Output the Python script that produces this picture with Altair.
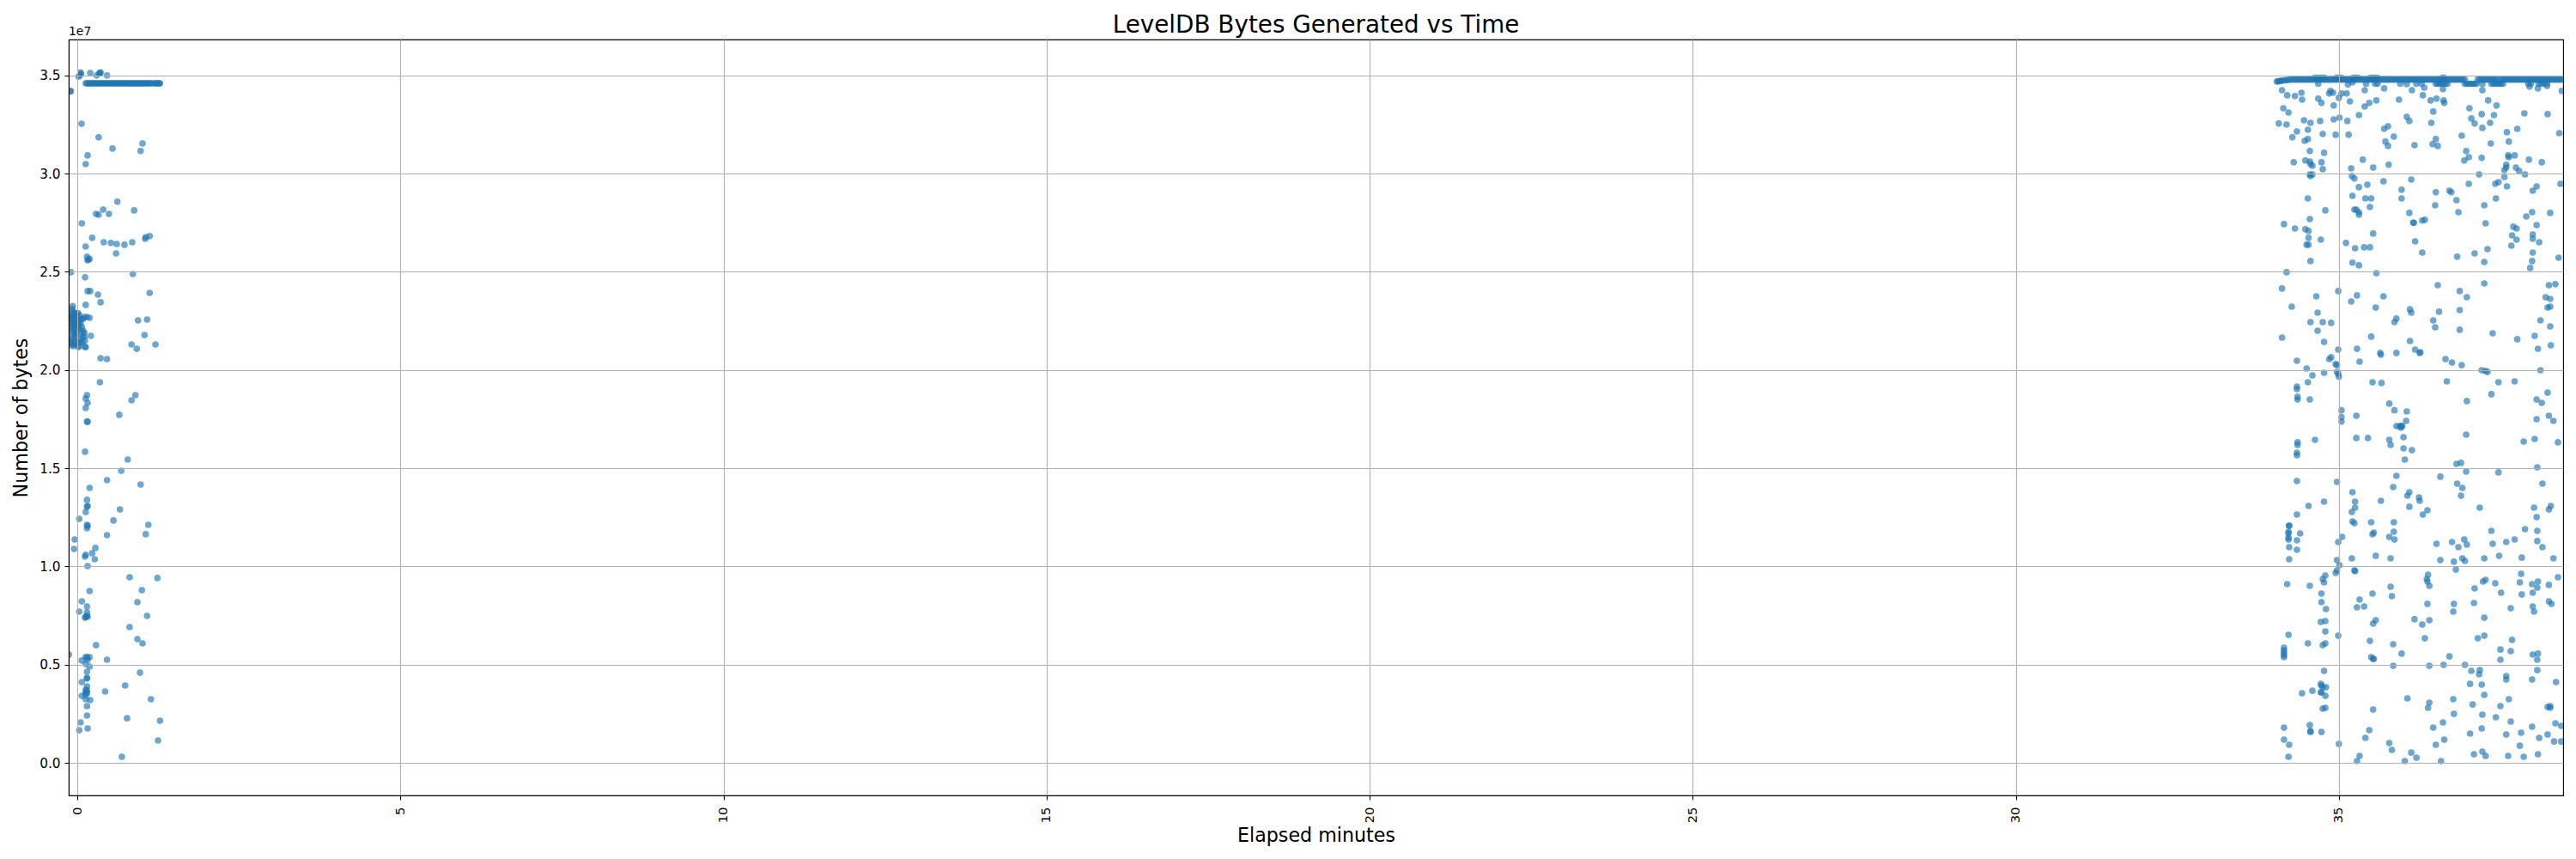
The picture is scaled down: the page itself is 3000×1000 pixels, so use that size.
import altair as alt
import pandas as pd

# values: (elapsed minutes, bytes in units of 1e7)

# first run, above 2.3e7
startup_upper = [
    (-0.10, 3.42), (-0.11, 3.42), (0.05, 3.515), (0.06, 3.508), (0.04, 3.50), (0.02, 3.494),
    (0.20, 3.512), (0.30, 3.50), (0.35, 3.512), (0.34, 3.51), (0.36, 3.515), (0.46, 3.50),
    (0.066, 3.254), (0.33, 3.185), (0.545, 3.128), (1.01, 3.154), (0.98, 3.115), (0.16, 3.093),
    (0.13, 3.049), (0.62, 2.857), (0.88, 2.813), (0.40, 2.817), (0.29, 2.795), (0.33, 2.791),
    (0.49, 2.795), (0.07, 2.747), (0.23, 2.673), (1.12, 2.682), (1.06, 2.677), (1.05, 2.668),
    (0.41, 2.651), (0.52, 2.647), (0.61, 2.642), (0.73, 2.638), (0.85, 2.651), (0.60, 2.594),
    (0.13, 2.629), (0.15, 2.577), (0.16, 2.559), (0.19, 2.566), (0.17, 2.563), (-0.10, 2.498),
    (0.86, 2.489), (0.12, 2.472), (0.16, 2.402), (0.20, 2.402), (0.32, 2.384), (0.36, 2.345),
    (1.12, 2.393), (0.13, 2.332), (-0.07, 2.326),
]

# the thick row near 3.46e7 in the first run
startup_band_minutes = [
    0.13, 0.15, 0.17, 0.19, 0.21, 0.23, 0.25, 0.27, 0.29, 0.31, 0.33, 0.35, 0.37, 0.39, 0.41,
    0.43, 0.45, 0.47, 0.49, 0.51, 0.53, 0.55, 0.57, 0.59, 0.61, 0.63, 0.65, 0.67, 0.69, 0.71,
    0.73, 0.75, 0.77, 0.79, 0.81, 0.83, 0.85, 0.87, 0.89, 0.91, 0.93, 0.95, 0.97, 0.99, 1.01,
    1.03, 1.05, 1.07, 1.09, 1.11, 1.13, 1.15, 1.19, 1.21, 1.23, 1.25, 1.27, 1.28,
]
startup_band_bytes = 3.46

# dense patch around 2.2e7 right at the start
startup_patch = [
    (-0.10, 2.28), (-0.08, 2.31), (-0.07, 2.30), (-0.05, 2.29), (-0.03, 2.29), (-0.01, 2.28),
    (0.01, 2.29), (0.03, 2.28), (-0.11, 2.26), (-0.09, 2.27), (-0.07, 2.27), (-0.05, 2.26),
    (-0.02, 2.26), (0.01, 2.26), (0.03, 2.25), (0.06, 2.26), (0.09, 2.26), (-0.11, 2.24),
    (-0.08, 2.24), (-0.06, 2.24), (-0.03, 2.23), (0.00, 2.24), (0.02, 2.23), (0.05, 2.24),
    (-0.10, 2.22), (-0.07, 2.21), (-0.05, 2.22), (-0.02, 2.21), (0.01, 2.22), (0.04, 2.21),
    (0.07, 2.22), (-0.09, 2.19), (-0.06, 2.19), (-0.03, 2.18), (-0.01, 2.19), (0.06, 2.19),
    (0.09, 2.20), (0.11, 2.19), (-0.10, 2.16), (-0.07, 2.16), (-0.04, 2.15), (-0.02, 2.17),
    (0.05, 2.16), (0.08, 2.17), (0.11, 2.17), (0.12, 2.15), (-0.10, 2.14), (-0.08, 2.13),
    (-0.05, 2.13), (-0.02, 2.14), (0.02, 2.14), (0.05, 2.14), (0.08, 2.14), (0.03, 2.12),
    (-0.07, 2.122), (0.01, 2.117),
]

# first run, below the patch
startup_lower = [
    (0.15, 2.270), (0.19, 2.266), (0.11, 2.27), (1.08, 2.257), (0.94, 2.253), (0.21, 2.174),
    (1.04, 2.178), (0.84, 2.130), (1.21, 2.130), (0.92, 2.108), (0.12, 2.117), (0.13, 2.117),
    (0.36, 2.060), (0.46, 2.056), (0.35, 1.938), (0.15, 1.872), (0.90, 1.872), (0.13, 1.855),
    (0.84, 1.846), (0.16, 1.833), (0.13, 1.807), (0.65, 1.772), (0.15, 1.737), (0.16, 1.737),
    (0.12, 1.584), (0.78, 1.544), (0.68, 1.487), (0.46, 1.439), (0.98, 1.417), (0.19, 1.400),
    (0.15, 1.339), (0.15, 1.304), (0.16, 1.308), (0.13, 1.277), (0.66, 1.290), (0.03, 1.242),
    (0.56, 1.234), (1.10, 1.212), (0.15, 1.212), (0.16, 1.207), (0.15, 1.194), (0.46, 1.159),
    (1.06, 1.164), (-0.04, 1.137), (-0.05, 1.089), (0.28, 1.094), (0.23, 1.067), (0.13, 1.059),
    (0.12, 1.050), (0.27, 1.037), (0.16, 1.002), (0.81, 0.945), (1.24, 0.941), (1.00, 0.879),
    (0.19, 0.875), (0.07, 0.822), (0.93, 0.818), (0.15, 0.796), (0.03, 0.770), (0.15, 0.766),
    (1.08, 0.748), (0.15, 0.748), (0.13, 0.744), (0.16, 0.744), (0.12, 0.739), (0.81, 0.691),
    (0.93, 0.630), (1.01, 0.608), (0.29, 0.599), (-0.13, 0.551), (0.15, 0.538), (0.13, 0.538),
    (0.19, 0.538), (0.16, 0.525), (0.07, 0.521), (0.46, 0.525), (0.13, 0.503), (0.19, 0.490),
    (0.15, 0.464), (0.97, 0.459), (0.15, 0.429), (0.15, 0.433), (0.07, 0.411), (0.74, 0.394),
    (0.15, 0.389), (0.13, 0.372), (0.15, 0.367), (0.13, 0.359), (0.15, 0.354), (0.43, 0.363),
    (0.13, 0.346), (0.07, 0.341), (0.13, 0.324), (0.20, 0.319), (1.14, 0.324), (0.15, 0.289),
    (0.15, 0.241), (0.77, 0.227), (0.05, 0.206), (1.28, 0.214), (0.16, 0.175), (0.03, 0.166),
    (1.25, 0.114), (0.69, 0.031),
]

# the thick row near 3.48e7 in the second run
resume_band_tip = [
    (34.04, 3.469), (34.06, 3.470), (34.08, 3.472), (34.10, 3.472), (34.13, 3.474), (34.16, 3.475),
    (34.19, 3.476), (34.22, 3.477),
]
resume_band_minutes = [
    34.25, 34.28, 34.31, 34.34, 34.37, 34.40, 34.43, 34.46, 34.49, 34.52, 34.55, 34.58, 34.61,
    34.64, 34.67, 34.70, 34.73, 34.76, 34.79, 34.82, 34.85, 34.88, 34.91, 34.94, 34.97, 35.00,
    35.03, 35.06, 35.09, 35.12, 35.15, 35.18, 35.21, 35.24, 35.27, 35.30, 35.33, 35.36, 35.39,
    35.42, 35.45, 35.48, 35.51, 35.54, 35.57, 35.60, 35.63, 35.66, 35.69, 35.72, 35.75, 35.78,
    35.81, 35.84, 35.87, 35.90, 35.93, 35.96, 35.99, 36.02, 36.05, 36.08, 36.11, 36.14, 36.17,
    36.20, 36.23, 36.26, 36.29, 36.32, 36.35, 36.38, 36.41, 36.44, 36.47, 36.50, 36.53, 36.56,
    36.59, 36.62, 36.65, 36.68, 36.71, 36.74, 36.77, 36.80, 36.83, 36.86, 36.89, 36.92, 36.95,
    37.15, 37.18, 37.21, 37.24, 37.27, 37.30, 37.33, 37.36, 37.39, 37.42, 37.45, 37.50, 37.53,
    37.56, 37.59, 37.62, 37.65, 37.68, 37.71, 37.74, 37.77, 37.80, 37.83, 37.86, 37.89, 37.92,
    37.95, 37.98, 38.01, 38.04, 38.07, 38.10, 38.13, 38.16, 38.19, 38.22, 38.25, 38.28, 38.31,
    38.34, 38.37, 38.40, 38.43, 38.46,
]
resume_band_bytes = 3.479
resume_dip_minutes = [
    34.68, 35.42, 35.56, 35.60, 35.95, 36.20, 36.28, 36.50, 36.53, 36.56, 36.59, 36.62, 36.65,
    36.68, 36.95, 36.98, 37.01, 37.04, 37.07, 37.10, 37.13, 37.36, 37.39, 37.42, 37.45, 37.48,
    37.51, 37.54, 37.93, 37.97, 38.09, 38.13, 38.17, 38.22,
]
resume_dip_bytes = 3.458
resume_over_minutes = [
    34.62, 34.66, 34.70, 34.74, 34.78, 34.96, 35.00, 35.04, 35.22, 35.26, 35.30, 35.48, 35.52,
    35.56, 35.60, 36.60, 36.63,
]
resume_over_bytes = 3.488

# second run, from the band down to 2.5e7
resume_upper = [
    (34.12, 3.425), (34.20, 3.399), (34.32, 3.395), (34.42, 3.412), (34.43, 3.377), (34.68, 3.382),
    (34.73, 3.360), (34.85, 3.408), (34.87, 3.421), (34.91, 3.412), (35.04, 3.408), (35.12, 3.408),
    (35.00, 3.386), (34.92, 3.347), (35.17, 3.368), (35.14, 3.454), (35.21, 3.465), (35.40, 3.425),
    (35.70, 3.434), (36.13, 3.425), (36.05, 3.456), (36.32, 3.438), (36.30, 3.399), (36.61, 3.430),
    (36.42, 3.373), (36.51, 3.382), (36.62, 3.373), (36.63, 3.360), (35.93, 3.377), (35.58, 3.373),
    (35.47, 3.360), (35.40, 3.342), (37.22, 3.425), (37.22, 3.456), (37.31, 3.373), (37.44, 3.347),
    (37.02, 3.333), (37.87, 3.307), (38.23, 3.303), (38.45, 3.421), (38.22, 3.447), (38.08, 3.434),
    (37.95, 3.443), (34.14, 3.333), (34.22, 3.311), (34.07, 3.255), (34.19, 3.250), (34.46, 3.272),
    (34.56, 3.259), (34.71, 3.268), (34.92, 3.276), (35.01, 3.285), (35.13, 3.268), (35.31, 3.298),
    (36.05, 3.289), (36.09, 3.268), (36.46, 3.316), (36.43, 3.259), (35.70, 3.228), (35.76, 3.241),
    (35.85, 3.189), (37.05, 3.281), (37.10, 3.255), (37.21, 3.303), (37.40, 3.298), (37.34, 3.259),
    (37.22, 3.233), (37.60, 3.211), (37.76, 3.228), (38.41, 3.206), (34.35, 3.215), (34.52, 3.224),
    (34.28, 3.185), (34.47, 3.167), (34.52, 3.176), (34.75, 3.202), (34.95, 3.198), (35.15, 3.198),
    (36.90, 3.193), (36.50, 3.176), (36.45, 3.150), (36.53, 3.141), (35.72, 3.163), (35.76, 3.141),
    (36.17, 3.145), (37.35, 3.154), (37.63, 3.163), (34.55, 3.115), (34.77, 3.106), (36.97, 3.115),
    (37.01, 3.084), (36.94, 3.067), (37.21, 3.080), (37.62, 3.093), (37.63, 3.084), (37.72, 3.093),
    (37.94, 3.071), (38.14, 3.058), (34.48, 3.067), (34.55, 3.062), (34.56, 3.049), (34.59, 3.040),
    (34.30, 3.058), (34.73, 3.058), (34.75, 3.023), (35.37, 3.071), (35.53, 3.031), (35.77, 3.045),
    (35.19, 3.027), (37.59, 3.045), (37.59, 3.031), (37.56, 3.018), (37.74, 3.031), (37.79, 3.014),
    (37.88, 2.996), (37.17, 2.996), (34.55, 2.996), (34.59, 2.996), (34.56, 2.988), (35.20, 2.988),
    (35.24, 2.975), (35.69, 2.961), (36.12, 2.970), (37.01, 2.948), (37.42, 2.948), (37.47, 2.957),
    (37.56, 2.983), (37.60, 2.935), (38.43, 2.948), (35.31, 2.931), (35.44, 2.944), (35.97, 2.918),
    (38.06, 2.935), (38.00, 2.913), (36.71, 2.913), (36.74, 2.905), (36.50, 2.905), (36.82, 2.865),
    (35.21, 2.887), (35.41, 2.874), (35.50, 2.874), (35.97, 2.874), (37.43, 2.874), (34.52, 2.874),
    (36.49, 2.839), (37.25, 2.839), (35.48, 2.830), (35.24, 2.817), (35.27, 2.817), (35.31, 2.804),
    (35.31, 2.791), (34.79, 2.813), (36.09, 2.800), (36.85, 2.804), (37.99, 2.804), (37.90, 2.782),
    (38.27, 2.800), (34.55, 2.769), (36.33, 2.765), (36.29, 2.761), (36.16, 2.750), (36.15, 2.750),
    (37.27, 2.747), (34.15, 2.743), (34.32, 2.721), (34.48, 2.717), (34.53, 2.708), (38.06, 2.738),
    (37.70, 2.730), (37.75, 2.721), (35.53, 2.695), (38.00, 2.690), (37.68, 2.686), (38.00, 2.668),
    (37.75, 2.664), (34.53, 2.673), (34.72, 2.664), (36.18, 2.655), (38.10, 2.651), (35.11, 2.647),
    (34.50, 2.638), (34.53, 2.638), (37.67, 2.633), (35.25, 2.620), (35.39, 2.625), (35.48, 2.625),
    (37.30, 2.616), (36.29, 2.598), (38.00, 2.598), (37.10, 2.594), (36.83, 2.577), (38.40, 2.572),
    (34.56, 2.555), (37.25, 2.550), (37.99, 2.555), (35.21, 2.547), (35.31, 2.533), (37.96, 2.520),
]

# second run, 2.5e7 to 1.5e7
resume_middle = [
    (34.19, 2.498), (35.58, 2.493), (37.25, 2.441), (36.53, 2.432), (38.25, 2.432), (38.35, 2.437),
    (34.12, 2.415), (34.99, 2.402), (36.87, 2.402), (34.65, 2.375), (35.28, 2.380), (35.69, 2.375),
    (36.98, 2.371), (38.20, 2.371), (38.27, 2.362), (35.19, 2.349), (34.27, 2.323), (35.57, 2.318),
    (38.23, 2.318), (38.27, 2.323), (36.10, 2.309), (36.12, 2.292), (36.55, 2.297), (36.87, 2.305),
    (34.67, 2.292), (34.56, 2.244), (34.75, 2.244), (34.88, 2.240), (35.89, 2.262), (35.86, 2.244),
    (36.46, 2.253), (38.12, 2.253), (36.49, 2.218), (38.27, 2.222), (34.67, 2.200), (36.87, 2.205),
    (37.38, 2.187), (34.12, 2.165), (35.50, 2.170), (38.03, 2.174), (37.76, 2.157), (34.77, 2.143),
    (36.10, 2.148), (38.28, 2.126), (34.99, 2.104), (35.28, 2.108), (36.18, 2.104), (38.08, 2.108),
    (35.64, 2.087), (35.65, 2.078), (35.89, 2.087), (36.25, 2.087), (36.26, 2.091), (34.85, 2.056),
    (34.88, 2.065), (34.35, 2.047), (35.32, 2.043), (36.65, 2.056), (36.75, 2.038), (36.90, 2.025),
    (34.95, 2.030), (34.97, 2.025), (34.50, 2.008), (37.21, 1.999), (37.27, 1.995), (37.30, 1.990),
    (38.12, 1.999), (34.77, 1.986), (34.97, 1.990), (34.99, 1.981), (35.00, 1.966), (34.59, 1.973),
    (34.35, 1.916), (34.35, 1.903), (34.52, 1.938), (35.52, 1.938), (35.66, 1.934), (36.67, 1.942),
    (37.47, 1.938), (37.72, 1.942), (37.36, 1.877), (38.23, 1.885), (34.36, 1.864), (34.36, 1.850),
    (34.55, 1.850), (38.06, 1.850), (38.14, 1.833), (36.98, 1.842), (35.78, 1.829), (35.86, 1.795),
    (36.05, 1.789), (35.04, 1.795), (35.04, 1.760), (35.04, 1.738), (35.27, 1.767), (38.06, 1.750),
    (38.25, 1.767), (38.32, 1.741), (36.04, 1.741), (35.89, 1.715), (35.94, 1.715), (35.97, 1.715),
    (35.96, 1.706), (35.98, 1.715), (36.97, 1.671), (34.63, 1.645), (34.36, 1.632), (34.36, 1.619),
    (34.35, 1.579), (34.35, 1.566), (35.27, 1.654), (35.45, 1.654), (35.78, 1.645), (35.80, 1.619),
    (36.00, 1.658), (36.00, 1.601), (36.13, 1.592), (36.02, 1.544), (37.86, 1.636), (38.03, 1.649),
    (38.39, 1.632), (36.82, 1.522), (36.89, 1.527), (36.97, 1.483), (37.47, 1.479), (38.07, 1.505),
]

# second run, below 1.5e7
resume_lower = [
    (35.89, 1.461), (36.57, 1.457), (34.35, 1.435), (34.97, 1.430), (38.15, 1.422), (36.83, 1.422),
    (36.91, 1.400), (35.84, 1.404), (35.21, 1.378), (36.09, 1.378), (36.06, 1.360), (36.89, 1.360),
    (36.24, 1.352), (36.25, 1.334), (35.25, 1.330), (34.77, 1.330), (35.65, 1.334), (34.53, 1.308),
    (35.25, 1.299), (36.09, 1.304), (37.18, 1.299), (38.02, 1.299), (38.28, 1.308), (38.25, 1.290),
    (35.20, 1.277), (36.37, 1.286), (36.30, 1.264), (34.35, 1.264), (38.06, 1.251), (35.21, 1.229),
    (35.24, 1.220), (35.50, 1.225), (35.85, 1.225), (34.23, 1.207), (34.23, 1.207), (34.22, 1.177),
    (34.22, 1.168), (34.40, 1.168), (34.22, 1.146), (34.22, 1.137), (35.85, 1.177), (35.54, 1.172),
    (35.52, 1.164), (37.36, 1.181), (37.88, 1.190), (38.07, 1.181), (35.05, 1.150), (35.78, 1.150),
    (35.86, 1.137), (34.35, 1.133), (34.99, 1.124), (36.94, 1.137), (36.75, 1.124), (36.98, 1.111),
    (36.85, 1.098), (36.51, 1.115), (37.38, 1.115), (37.59, 1.124), (37.72, 1.137), (38.07, 1.129),
    (38.15, 1.098), (34.23, 1.098), (34.35, 1.085), (34.23, 1.037), (35.57, 1.054), (35.20, 1.041),
    (35.80, 1.041), (34.97, 1.032), (36.57, 1.032), (36.78, 1.024), (36.91, 1.041), (36.95, 1.028),
    (37.25, 1.041), (37.48, 1.054), (37.83, 1.045), (38.32, 1.041), (35.01, 1.006), (34.97, 0.980),
    (34.95, 0.967), (35.24, 0.980), (35.25, 0.976), (36.81, 0.984), (37.82, 0.962), (36.38, 0.958),
    (34.79, 0.954), (34.75, 0.936), (34.77, 0.919), (36.36, 0.936), (36.37, 0.923), (36.40, 0.901),
    (37.27, 0.932), (37.23, 0.923), (37.80, 0.919), (38.39, 0.945), (38.08, 0.923), (37.42, 0.914),
    (37.99, 0.910), (38.25, 0.906), (34.20, 0.910), (34.55, 0.901), (35.80, 0.897), (38.07, 0.892),
    (37.10, 0.888), (37.51, 0.866), (38.00, 0.866), (34.73, 0.862), (35.52, 0.862), (37.83, 0.857),
    (35.82, 0.849), (35.32, 0.831), (34.73, 0.818), (36.37, 0.809), (36.78, 0.809), (37.09, 0.814),
    (38.25, 0.822), (38.29, 0.809), (35.39, 0.796), (35.28, 0.792), (34.80, 0.783), (37.66, 0.787),
    (38.00, 0.796), (36.77, 0.770), (38.02, 0.770), (37.25, 0.739), (36.17, 0.731), (35.57, 0.726),
    (36.40, 0.726), (34.79, 0.722), (34.72, 0.717), (35.53, 0.709), (36.29, 0.704), (34.79, 0.669),
    (34.22, 0.652), (34.99, 0.647), (37.25, 0.647), (37.15, 0.634), (36.33, 0.634), (37.68, 0.626),
    (35.48, 0.621), (34.52, 0.608), (34.79, 0.608), (34.75, 0.599), (35.84, 0.604), (34.15, 0.586),
    (34.15, 0.572), (34.15, 0.560), (34.15, 0.548), (34.15, 0.538), (35.97, 0.556), (37.50, 0.577),
    (37.66, 0.569), (38.08, 0.556), (38.00, 0.551), (37.50, 0.525), (38.07, 0.525), (35.50, 0.538),
    (35.54, 0.529), (35.53, 0.529), (36.71, 0.542), (35.84, 0.494), (36.40, 0.494), (36.62, 0.499),
    (36.95, 0.499), (34.77, 0.468), (38.07, 0.472), (37.05, 0.468), (37.18, 0.472), (37.17, 0.451),
    (37.59, 0.442), (37.59, 0.424), (37.99, 0.424), (38.36, 0.411), (37.03, 0.402), (37.21, 0.398),
    (34.72, 0.402), (34.73, 0.394), (34.80, 0.385), (34.75, 0.385), (34.59, 0.367), (34.43, 0.354),
    (34.72, 0.359), (34.73, 0.359), (34.79, 0.341), (37.25, 0.346), (36.06, 0.328), (36.77, 0.324),
    (37.63, 0.324), (36.40, 0.306), (37.07, 0.297), (37.50, 0.289), (36.38, 0.280), (38.23, 0.284),
    (38.27, 0.289), (38.27, 0.280), (34.79, 0.280), (34.75, 0.276), (35.53, 0.271), (36.78, 0.249),
    (37.22, 0.245), (37.43, 0.232), (36.61, 0.206), (37.66, 0.210), (38.35, 0.201), (38.44, 0.188),
    (34.55, 0.192), (34.15, 0.179), (36.46, 0.179), (37.21, 0.175), (37.99, 0.184), (35.47, 0.166),
    (34.56, 0.162), (34.56, 0.157), (34.73, 0.157), (37.03, 0.149), (37.59, 0.144), (37.82, 0.153),
    (38.23, 0.144), (35.41, 0.127), (36.63, 0.118), (38.10, 0.127), (34.15, 0.118), (34.23, 0.092),
    (35.00, 0.096), (35.78, 0.101), (36.50, 0.092), (37.80, 0.087), (38.33, 0.109), (38.44, 0.109),
    (35.82, 0.066), (36.12, 0.052), (37.22, 0.057), (37.27, 0.035), (37.09, 0.044), (38.08, 0.044),
    (35.32, 0.035), (34.22, 0.031), (36.20, 0.026), (37.62, 0.035), (37.86, 0.031), (35.28, 0.009),
    (36.02, 0.009), (36.58, 0.009),
]

x_ticks = [0, 5, 10, 15, 20, 25, 30, 35]
y_ticks = [0, 5e6, 1e7, 1.5e7, 2e7, 2.5e7, 3e7, 3.5e7]

points = startup_upper + startup_patch + startup_lower + resume_band_tip
points += resume_upper + resume_middle + resume_lower
points += [(m, startup_band_bytes) for m in startup_band_minutes]
points += [(m, resume_band_bytes) for m in resume_band_minutes]
points += [(m, resume_dip_bytes) for m in resume_dip_minutes]
points += [(m, resume_over_bytes) for m in resume_over_minutes]

df = pd.DataFrame(points, columns=["minutes", "bytes_e7"])
df["bytes"] = df["bytes_e7"] * 1e7

font = "DejaVu Sans"

scatter = (
    alt.Chart(df)
    .mark_circle(color="#1f77b4", opacity=0.65, size=58, clip=True)
    .encode(
        x=alt.X(
            "minutes:Q",
            title="Elapsed minutes",
            scale=alt.Scale(domain=[-0.133, 38.47], nice=False, zero=False),
            axis=alt.Axis(
                values=x_ticks,
                format="d",
                labelAngle=270,
                labelAlign="right",
                labelBaseline="middle",
                labelFontSize=14.8,
                labelPadding=8,
                labelFlush=False,
                titlePadding=4,
                zindex=1,
            ),
        ),
        y=alt.Y(
            "bytes:Q",
            title="Number of bytes",
            scale=alt.Scale(domain=[-1.66e6, 3.683e7], nice=False, zero=False),
            axis=alt.Axis(
                values=y_ticks,
                labelExpr="format(datum.value / 1e7, '.1f')",
                labelPadding=5,
                titlePadding=9,
                zindex=1,
            ),
        ),
    )
)

# matplotlib's offset text above the y axis
offset_text = (
    alt.Chart(pd.DataFrame({"label": ["1e7"]}))
    .mark_text(align="left", baseline="alphabetic", font=font, fontSize=13.9, color="black")
    .encode(x=alt.value(0), y=alt.value(-5), text="label:N")
)

chart = (
    alt.layer(scatter, offset_text)
    .properties(
        width=2905,
        height=880,
        padding={"left": 72, "top": 38, "right": 6, "bottom": 63},
        autosize=alt.AutoSizeParams(type="none"),
        title=alt.TitleParams(
            "LevelDB Bytes Generated vs Time",
            font=font,
            fontSize=27.8,
            fontWeight="normal",
            color="black",
            anchor="middle",
            offset=8,
            dy=22,
        ),
    )
    .configure_view(stroke="black", strokeWidth=1.1)
    .configure_axis(
        grid=True,
        gridColor="#b0b0b0",
        gridWidth=1.1,
        domainColor="black",
        domainWidth=1.1,
        tickColor="black",
        tickWidth=1.1,
        tickSize=5,
        labelFont=font,
        labelFontSize=15.3,
        labelColor="black",
        titleFont=font,
        titleFontSize=22.2,
        titleFontWeight="normal",
        titleColor="black",
    )
)

chart.save("out.html", embed_options={"renderer": "svg", "actions": False})
